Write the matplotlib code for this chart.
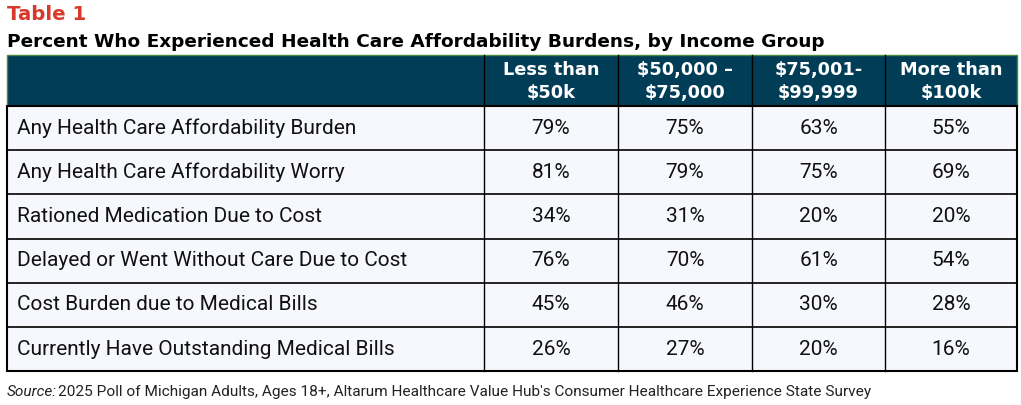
import matplotlib.pyplot as plt
from matplotlib.patches import Rectangle

plt.rcParams['font.family'] = ['Roboto', 'DejaVu Sans']

# table content
row_labels = [
    "Any Health Care Affordability Burden",
    "Any Health Care Affordability Worry",
    "Rationed Medication Due to Cost",
    "Delayed or Went Without Care Due to Cost",
    "Cost Burden due to Medical Bills",
    "Currently Have Outstanding Medical Bills",
]
col_labels = ["Less than\n$50k", "$50,000 \u2013\n$75,000", "$75,001-\n$99,999", "More than\n$100k"]
less_50k = [79, 81, 34, 76, 45, 26]
k50_75 = [75, 79, 31, 70, 46, 27]
k75_100 = [63, 75, 20, 61, 30, 20]
more_100k = [55, 69, 20, 54, 28, 16]
values = [less_50k, k50_75, k75_100, more_100k]

W, H = 1021, 405
fig = plt.figure(figsize=(W / 100, H / 100), dpi=100)
ax = fig.add_axes([0, 0, 1, 1])
ax.set_xlim(0, W)
ax.set_ylim(H, 0)
ax.axis("off")

header_col = "#013d57"
row_bg = "#f6f8fd"
edges = [7, 484, 618, 752, 885, 1017]
top, head_h, row_h = 55, 51, 44.2
bold_fam = ["DejaVu Sans"]

ax.text(7, 15, "Table 1", color="#d63a2b", fontsize=14.2, fontweight="bold", va="center", ha="left",
        family=bold_fam)
ax.text(7, 42, "Percent Who Experienced Health Care Affordability Burdens, by Income Group",
        color="black", fontsize=13.3, fontweight="bold", va="center", ha="left", family=bold_fam)

# header
ax.add_patch(Rectangle((edges[0], top), edges[-1] - edges[0], head_h, facecolor=header_col,
                       edgecolor="#4a8a3a", lw=1))
for j, lab in enumerate(col_labels):
    cx = (edges[j + 1] + edges[j + 2]) / 2
    ax.text(cx, top + head_h / 2 + 1, lab, color="white", fontsize=12.8, fontweight="bold",
            ha="center", va="center", linespacing=1.3, family=bold_fam)
for x in edges[1:-1]:
    ax.plot([x, x], [top, top + head_h], color="black", lw=1)

# body
y0 = top + head_h
body_h = row_h * len(row_labels)
ax.add_patch(Rectangle((edges[0], y0), edges[-1] - edges[0], body_h, facecolor=row_bg,
                       edgecolor="black", lw=1.5))
for i, lab in enumerate(row_labels):
    yc = y0 + row_h * (i + 0.5)
    ax.text(17, yc, lab, fontsize=15, ha="left", va="center", color="#111111")
    for j in range(4):
        cx = (edges[j + 1] + edges[j + 2]) / 2
        ax.text(cx, yc, f"{values[j][i]}%", fontsize=15, ha="center", va="center", color="#111111")
    if i > 0:
        ax.plot([edges[0], edges[-1]], [y0 + row_h * i] * 2, color="black", lw=1.2)
for x in edges[1:-1]:
    ax.plot([x, x], [y0, y0 + body_h], color="black", lw=1)

ax.text(7, 392, "Source:", fontsize=11.1, style="italic", ha="left", va="center", color="#222222")
ax.text(58, 392, "2025 Poll of Michigan Adults, Ages 18+, Altarum Healthcare Value Hub's Consumer Healthcare Experience State Survey",
        fontsize=11.1, ha="left", va="center", color="#222222")

fig.savefig("out.png", dpi=100)
